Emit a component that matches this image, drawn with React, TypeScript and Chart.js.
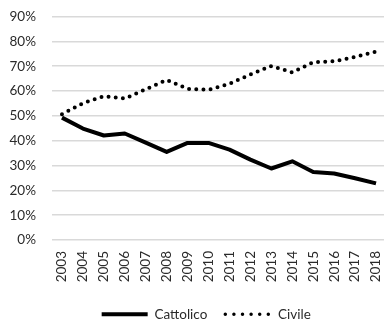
import React, { useEffect, useRef } from "react";
import { Chart, registerables } from "chart.js";

Chart.register(...registerables);

const years = ["2003","2004","2005","2006","2007","2008","2009","2010","2011","2012","2013","2014","2015","2016","2017","2018"];
const cattolico = [0.493, 0.449, 0.421, 0.429, 0.392, 0.355, 0.391, 0.391, 0.364, 0.324, 0.288, 0.317, 0.274, 0.268, 0.249, 0.228];
const civile = [0.507, 0.551, 0.579, 0.570, 0.607, 0.645, 0.609, 0.605, 0.629, 0.667, 0.701, 0.675, 0.716, 0.720, 0.738, 0.759];
const seriesNames = ["Cattolico", "Civile"];

const FONT = "Lato";
const TEXT = "#2a2a2a";

const legendShift = {
  id: "legendShift",
  afterLayout(chart: any) {
    const lg = chart.legend;
    if (lg) {
      lg.left += 13;
      lg.right += 13;
      if (lg.adjustHitBoxes) lg.adjustHitBoxes();
    }
  },
};

export default function App() {
  const ref = useRef<HTMLCanvasElement | null>(null);
  useEffect(() => {
    document.body.style.margin = "0";
    document.body.style.overflow = "hidden";
    const chart = new Chart(ref.current!, {
      type: "line",
      data: {
        labels: years,
        datasets: [
          {
            label: seriesNames[0],
            data: cattolico,
            borderColor: "#000000",
            backgroundColor: "#000000",
            borderWidth: 4,
            pointRadius: 0,
            tension: 0,
            borderJoinStyle: "round",
          },
          {
            label: seriesNames[1],
            data: civile,
            borderColor: "#000000",
            backgroundColor: "#000000",
            borderWidth: 4,
            borderDash: [0, 7.2],
            borderCapStyle: "round",
            pointRadius: 0,
            tension: 0,
          },
        ],
      },
      plugins: [legendShift],
      options: {
        animation: false,
        responsive: false,
        maintainAspectRatio: false,
        layout: { padding: { top: 0, right: 5.5, left: 0, bottom: 0 } },
        plugins: {
          tooltip: { enabled: false },
          legend: {
            position: "bottom",
            labels: {
              usePointStyle: true,
              pointStyle: "line",
              pointStyleWidth: 46,
              color: TEXT,
              font: { family: FONT, size: 13.5 },
              padding: 18,
              generateLabels: (c: any) => {
                const items = (Chart as any).defaults.plugins.legend.labels.generateLabels(c);
                items.forEach((it: any, i: number) => {
                  it.pointStyle = "line";
                  it.strokeStyle = "#000000";
                  if (i === 1) {
                    it.lineDash = [0, 8.6];
                    it.lineCap = "round";
                    it.lineWidth = 3.5;
                  } else {
                    it.lineDash = [];
                    it.lineCap = "butt";
                    it.lineWidth = 4;
                  }
                });
                return items;
              },
            },
          },
        },
        scales: {
          x: {
            offset: true,
            grid: { display: false, drawTicks: false },
            border: { display: false },
            afterFit: (axis: any) => {
              axis.height = 49.5;
              axis.paddingLeft = 0;
              axis.paddingRight = 0;
            },
            ticks: {
              color: TEXT,
              font: { family: FONT, size: 13.5 },
              maxRotation: 90,
              minRotation: 90,
              padding: 11,
              autoSkip: false,
            },
          },
          y: {
            min: 0,
            max: 0.9,
            grid: { color: "#d9d9d9", lineWidth: 1.5, drawTicks: true, tickLength: 7, tickColor: "rgba(0,0,0,0)" },
            border: { display: false },
            afterFit: (axis: any) => {
              axis.width = 51.5;
            },
            ticks: {
              stepSize: 0.1,
              color: TEXT,
              font: { family: FONT, size: 13.5 },
              padding: 8.5,
              callback: (v: any) => Math.round(Number(v) * 100) + "%",
            },
          },
        },
      },
    });
    return () => chart.destroy();
  }, []);
  return (
    <div style={{ position: "fixed", left: 0, top: 0, width: 384, height: 322, overflow: "hidden", background: "#fff" }}>
      <canvas ref={ref} width={392} height={331} style={{ width: 392, height: 331, display: "block" }} />
    </div>
  );
}
